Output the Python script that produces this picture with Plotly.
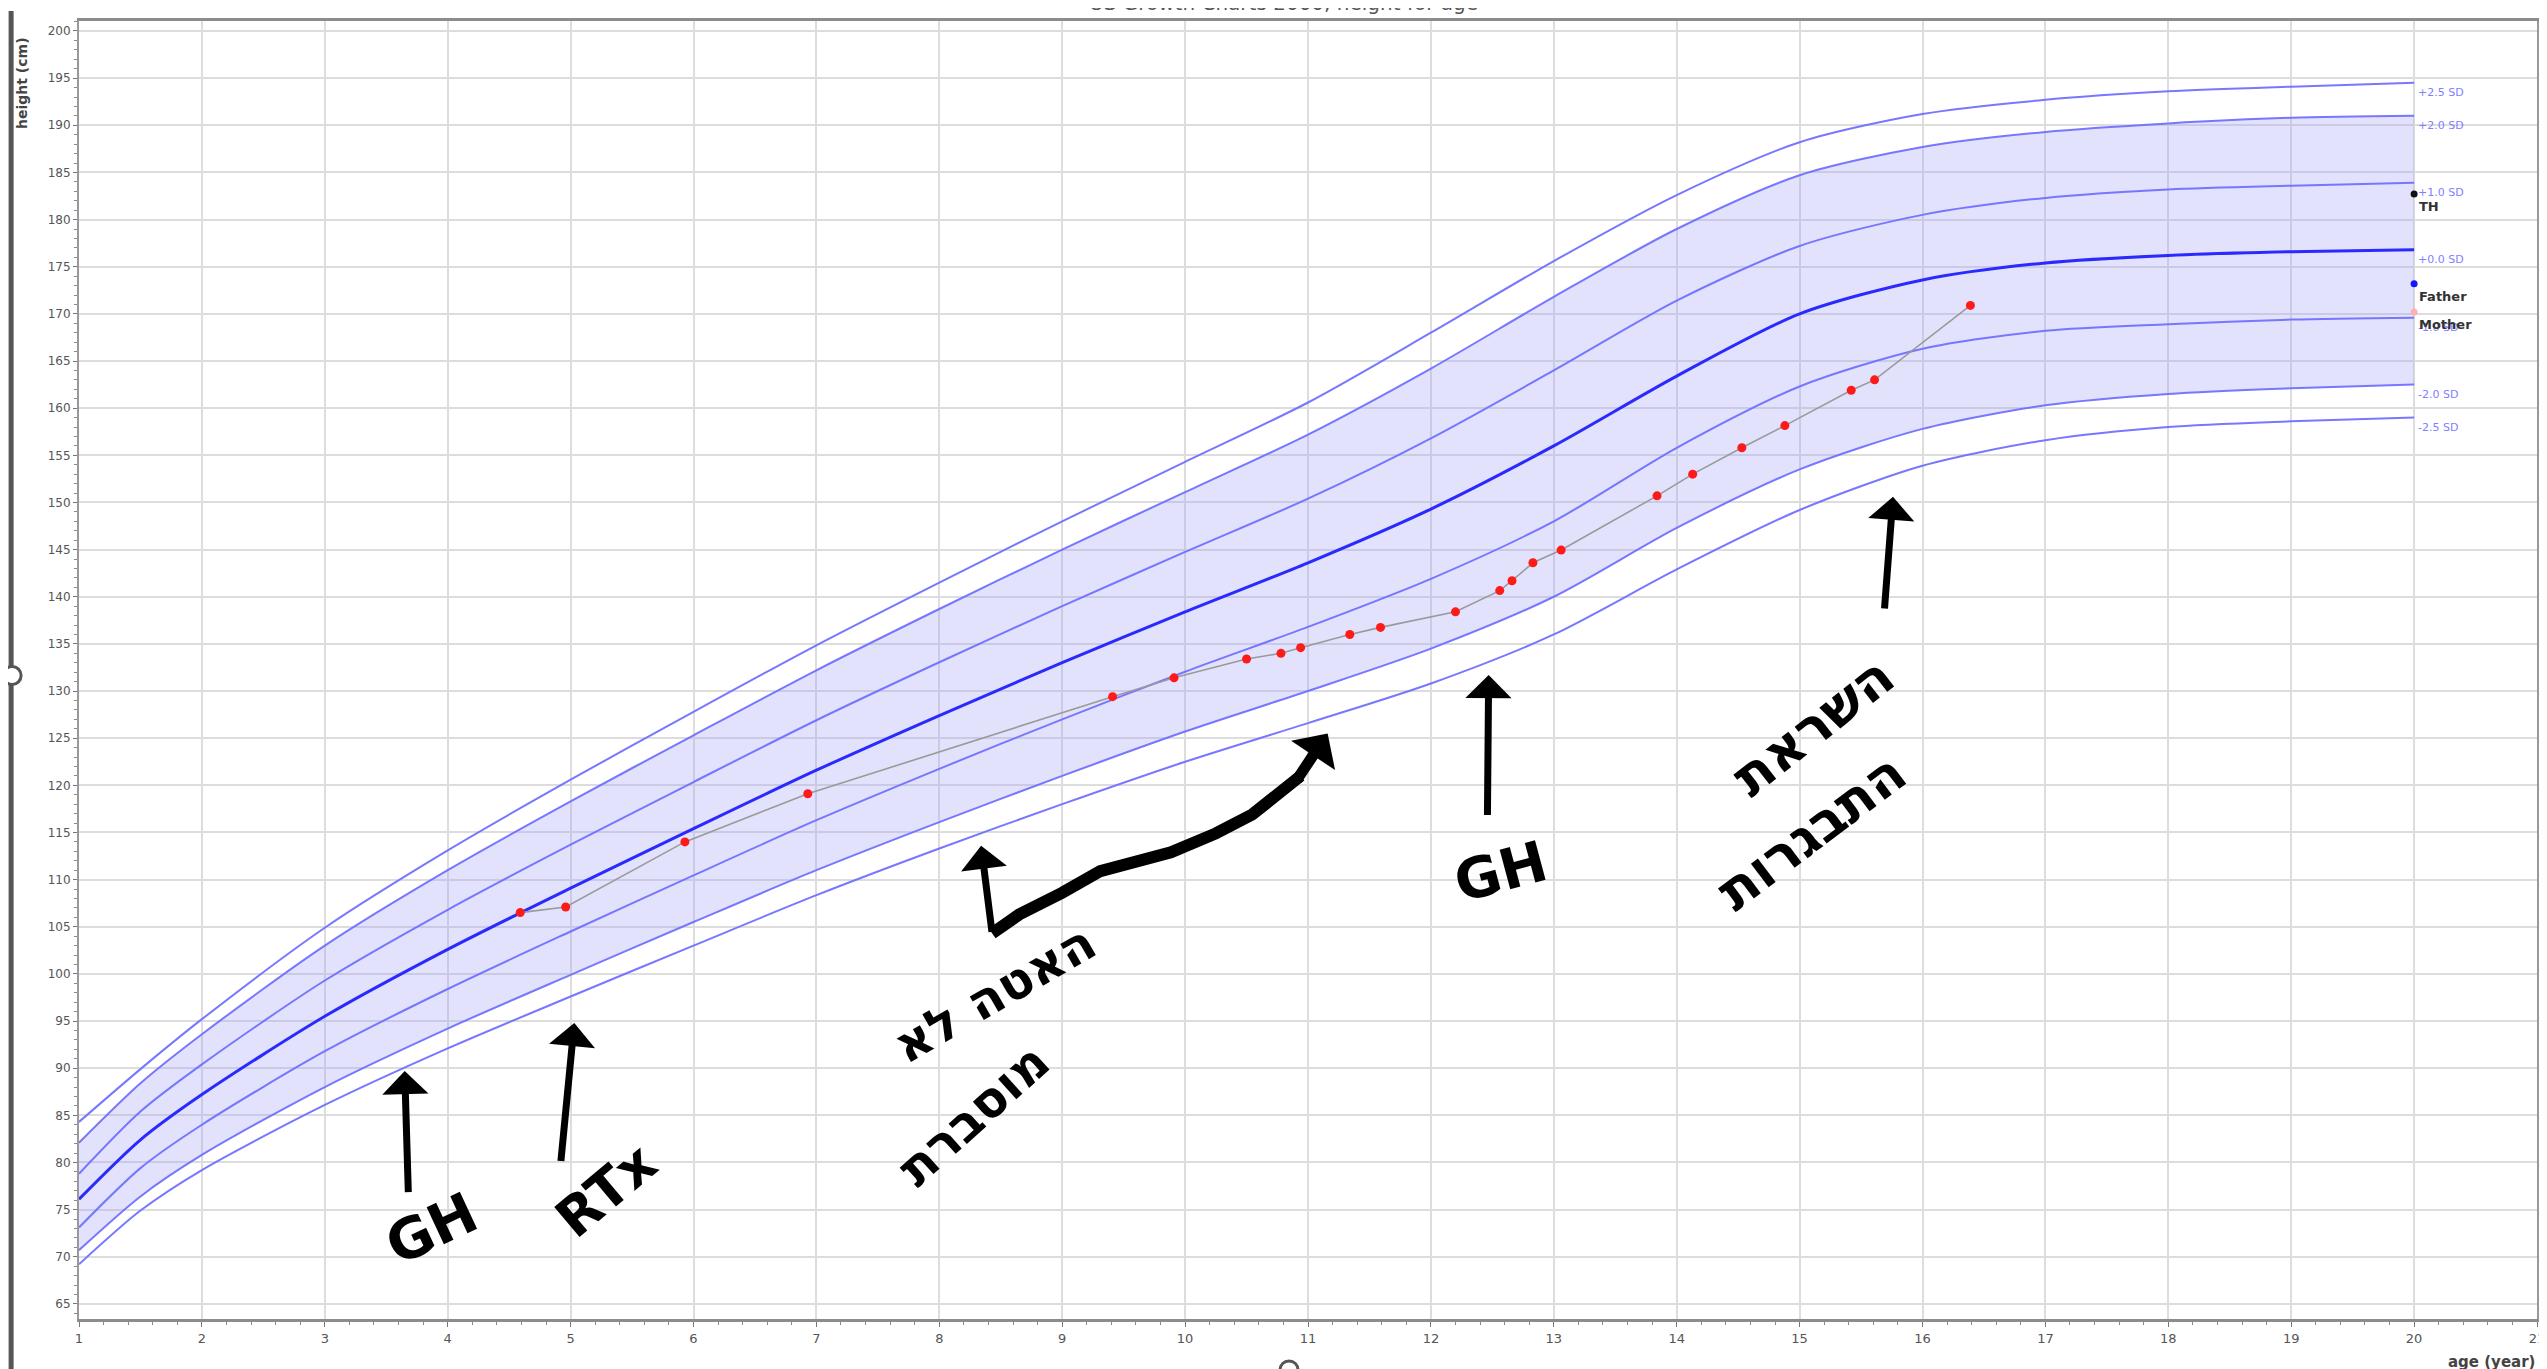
import plotly.graph_objects as go

# ---------------- data ----------------
ages = [1, 1.5, 2, 3, 4, 5, 6, 7, 8, 9, 10, 11, 12, 13, 14, 15, 16, 17, 18, 19, 20]
sd_p25 = [84.3, 89.9, 95.2, 104.9, 113.1, 120.6, 127.8, 134.85, 141.5, 148.0, 154.3, 160.6, 168.0, 175.6, 182.6, 188.2, 191.2, 192.7, 193.6, 194.1, 194.5]
sd_p20 = [82.1, 88.4, 93.6, 103.0, 111.0, 118.3, 125.3, 132.2, 138.7, 145.0, 151.1, 157.2, 164.2, 171.8, 179.0, 184.7, 187.7, 189.3, 190.2, 190.8, 191.0]
sd_p10 = [78.8, 85.4, 90.4, 99.3, 106.8, 113.7, 120.35, 126.9, 133.05, 139.0, 144.75, 150.4, 156.8, 164.0, 171.4, 177.2, 180.5, 182.3, 183.2, 183.6, 183.9]
sd_0 = [76.1, 82.4, 87.2, 95.5, 102.6, 109.1, 115.4, 121.6, 127.4, 133.0, 138.4, 143.6, 149.3, 156.0, 163.4, 170.0, 173.6, 175.4, 176.2, 176.6, 176.8]
sd_m10 = [73.1, 79.4, 84.0, 91.8, 98.4, 104.5, 110.45, 116.3, 121.75, 127.0, 132.05, 136.8, 141.9, 148.0, 155.8, 162.3, 166.3, 168.2, 168.9, 169.4, 169.6]
sd_m20 = [70.7, 76.4, 80.8, 88.0, 94.2, 99.9, 105.5, 111.0, 116.1, 121.0, 125.7, 130.0, 134.5, 140.0, 147.3, 153.5, 157.8, 160.3, 161.5, 162.1, 162.5]
sd_m25 = [69.2, 74.9, 79.2, 86.1, 92.1, 97.6, 103.0, 108.35, 113.3, 118.0, 122.5, 126.6, 130.8, 136.0, 142.9, 149.2, 153.9, 156.6, 158.0, 158.6, 159.0]
sd_labels = ["+2.5 SD", "+2.0 SD", "+1.0 SD", "+0.0 SD", "-1.0 SD", "-2.0 SD", "-2.5 SD"]

pt_age = [4.59, 4.96, 5.93, 6.93, 9.41, 9.91, 10.50, 10.78, 10.94, 11.34, 11.59, 12.20,
          12.56, 12.66, 12.83, 13.06, 13.84, 14.13, 14.53, 14.88, 15.42, 15.61, 16.39]
pt_height = [106.5, 107.1, 114.0, 119.1, 129.4, 131.4, 133.4, 134.0, 134.6, 136.0, 136.75, 138.4,
             140.65, 141.7, 143.6, 144.95, 150.7, 153.0, 155.8, 158.15, 161.9, 163.0, 170.9]

ref_labels = ["TH", "Father", "Mother"]
ref_age = [20, 20, 20]
ref_heights = [182.7, 173.2, 170.2]
ref_colors = ["#111111", "#1515ff", "#ffb0b0"]

x_ticks = list(range(1, 22))
y_ticks = list(range(65, 201, 5))

# ---------------- figure ----------------
W, H = 2547, 1369
ML, MR, MT, MB = 71, 14, 10, 58
PW, PH = W - ML - MR, H - MT - MB

def px2paper_x(px):
    return (px - ML) / PW

def px2paper_y(py):
    return (H - MB - py) / PH

fig = go.Figure()

# shaded band between -2 SD and +2 SD
fig.add_trace(go.Scatter(x=ages, y=sd_m20, mode="lines", line=dict(width=0, shape="spline", smoothing=0.8),
                         hoverinfo="skip", showlegend=False))
fig.add_trace(go.Scatter(x=ages, y=sd_p20, mode="lines", line=dict(width=0, shape="spline", smoothing=0.8),
                         fill="tonexty", fillcolor="rgba(160,160,245,0.30)", hoverinfo="skip", showlegend=False))

curves = [sd_p25, sd_p20, sd_p10, sd_0, sd_m10, sd_m20, sd_m25]
for i, c in enumerate(curves):
    median = (i == 3)
    fig.add_trace(go.Scatter(
        x=ages, y=c, mode="lines",
        line=dict(color="#2a2aff" if median else "rgba(112,112,255,0.95)",
                  width=3 if median else 2, shape="spline", smoothing=0.8),
        hoverinfo="skip", showlegend=False))

# patient measurements
fig.add_trace(go.Scatter(x=pt_age, y=pt_height, mode="lines+markers",
                         line=dict(color="#9a9a9a", width=1.6),
                         marker=dict(color="#ff1a1a", size=9),
                         showlegend=False))

# TH / parents
fig.add_trace(go.Scatter(x=ref_age, y=ref_heights, mode="markers",
                         marker=dict(color=ref_colors, size=7), showlegend=False))

annotations = []

# SD labels at the right end
for lab, c in zip(sd_labels, curves):
    annotations.append(dict(x=20, y=c[-1], xref="x", yref="y", text=lab, showarrow=False,
                            xanchor="left", yanchor="top", xshift=2, yshift=-1,
                            font=dict(family="DejaVu Sans", size=11, color="#7f7fff")))

for lab, h in zip(ref_labels, ref_heights):
    annotations.append(dict(x=20, y=h, xref="x", yref="y", text="<b>" + lab + "</b>", showarrow=False,
                            xanchor="left", yanchor="top", xshift=3, yshift=-3,
                            font=dict(family="DejaVu Sans", size=13, color="#333333")))

# axis titles & title
annotations.append(dict(x=px2paper_x(14), y=px2paper_y(72), xref="paper", yref="paper",
                        text="<b>height (cm)</b>", textangle=-90, showarrow=False,
                        xanchor="center", yanchor="middle",
                        font=dict(family="DejaVu Sans", size=14, color="#444444")))
annotations.append(dict(x=px2paper_x(2533), y=px2paper_y(1354), xref="paper", yref="paper",
                        text="<b>age (year)</b>", showarrow=False,
                        xanchor="right", yanchor="middle",
                        font=dict(family="DejaVu Sans", size=15, color="#444444")))
annotations.append(dict(x=px2paper_x(1277), y=px2paper_y(6), xref="paper", yref="paper",
                        text="US Growth Charts 2000, height for age", showarrow=False,
                        xanchor="center", yanchor="bottom",
                        font=dict(family="DejaVu Sans", size=20, color="#555555")))

# handwritten notes
hw_font = lambda s: dict(family="DejaVu Sans", size=s, color="#000000")
notes = [
    ("<b>GH</b>", 3.87, 73.0, -25, 56),
    ("<b>RTx</b>", 5.29, 77.0, -40, 54),
    ("<b>GH</b>", 12.57, 110.9, -15, 56),
    ("<b>האטה לא</b>", 8.45, 97.9, -30, 50),
    ("<b>מוסברת</b>", 8.28, 85.0, -42, 50),
    ("<b>השראת</b>", 15.11, 126.2, -38, 54),
    ("<b>התבגרות</b>", 15.10, 115.1, -37, 54),
]
for t, x, y, ang, s in notes:
    annotations.append(dict(x=x, y=y, xref="x", yref="y", text=t, textangle=ang, showarrow=False,
                            xanchor="center", yanchor="middle", font=hw_font(s)))

arrows = [
    ((3.68, 76.7), (3.65, 89.7), 7),
    ((4.92, 80.0), (5.03, 94.8), 7),
    ((12.46, 116.7), (12.47, 131.7), 7),
    ((15.69, 138.6), (15.76, 150.6), 7),
    ((8.43, 104.3), (8.34, 113.6), 7),
    ((10.90, 120.4), (11.16, 125.5), 11),
]
for (ax_, ay_), (x_, y_), w in arrows:
    annotations.append(dict(x=x_, y=y_, ax=ax_, ay=ay_, xref="x", yref="y", axref="x", ayref="y",
                            text="", showarrow=True, arrowhead=1, arrowsize=1.1 if w < 10 else 0.8,
                            arrowwidth=w, arrowcolor="#000000"))

shapes = []
# thick wavy stroke of the bent arrow
zpath = "M 8.43,104.3 L 8.65,106.3 L 9.00,108.6 L 9.31,110.9 L 9.885,112.9 L 10.25,114.9 L 10.546,116.9 L 10.94,121.0"
shapes.append(dict(type="path", path=zpath, xref="x", yref="y",
                   line=dict(color="#000000", width=12)))

# outer screenshot frame
shapes.append(dict(type="line", xref="paper", yref="paper",
                   x0=px2paper_x(3), x1=px2paper_x(3), y0=px2paper_y(0), y1=px2paper_y(1366),
                   line=dict(color="#555555", width=5)))
shapes.append(dict(type="line", xref="paper", yref="paper",
                   x0=px2paper_x(0), x1=px2paper_x(2547), y0=px2paper_y(1366), y1=px2paper_y(1366),
                   line=dict(color="#555555", width=5)))
# resize handles
for cx, cy in [(4, 666), (1283, 1362)]:
    shapes.append(dict(type="circle", xref="paper", yref="paper", xsizemode="pixel", ysizemode="pixel",
                       xanchor=px2paper_x(cx), yanchor=px2paper_y(cy),
                       x0=-9, x1=9, y0=-9, y1=9,
                       line=dict(color="#555555", width=3), fillcolor="white"))

fig.update_layout(
    width=W, height=H,
    margin=dict(l=ML, r=MR, t=MT, b=MB),
    paper_bgcolor="white", plot_bgcolor="white",
    showlegend=False,
    annotations=annotations,
    shapes=shapes,
    xaxis=dict(range=[1, 21], tickvals=x_ticks, ticktext=[str(v) for v in x_ticks],
               showgrid=True, gridcolor="#dddddd", gridwidth=2, zeroline=False,
               ticks="outside", ticklen=5, tickcolor="#777777", tickwidth=1,
               minor=dict(dtick=0.2, tick0=1, ticklen=3, tickcolor="#888888", showgrid=False),
               showline=True, linecolor="#8c8c8c", linewidth=3, mirror=True,
               tickfont=dict(family="DejaVu Sans", size=13, color="#555555")),
    yaxis=dict(range=[63.4, 201.06], tickvals=y_ticks, ticktext=[str(v) for v in y_ticks],
               showgrid=True, gridcolor="#dddddd", gridwidth=2, zeroline=False,
               ticks="outside", ticklen=4, tickcolor="#777777", tickwidth=1,
               minor=dict(dtick=1, tick0=0, ticklen=3, tickcolor="#888888", showgrid=False),
               showline=True, linecolor="#999999", linewidth=2, mirror=True,
               tickfont=dict(family="DejaVu Sans", size=12, color="#555555")),
)

fig.write_html("out.html")
